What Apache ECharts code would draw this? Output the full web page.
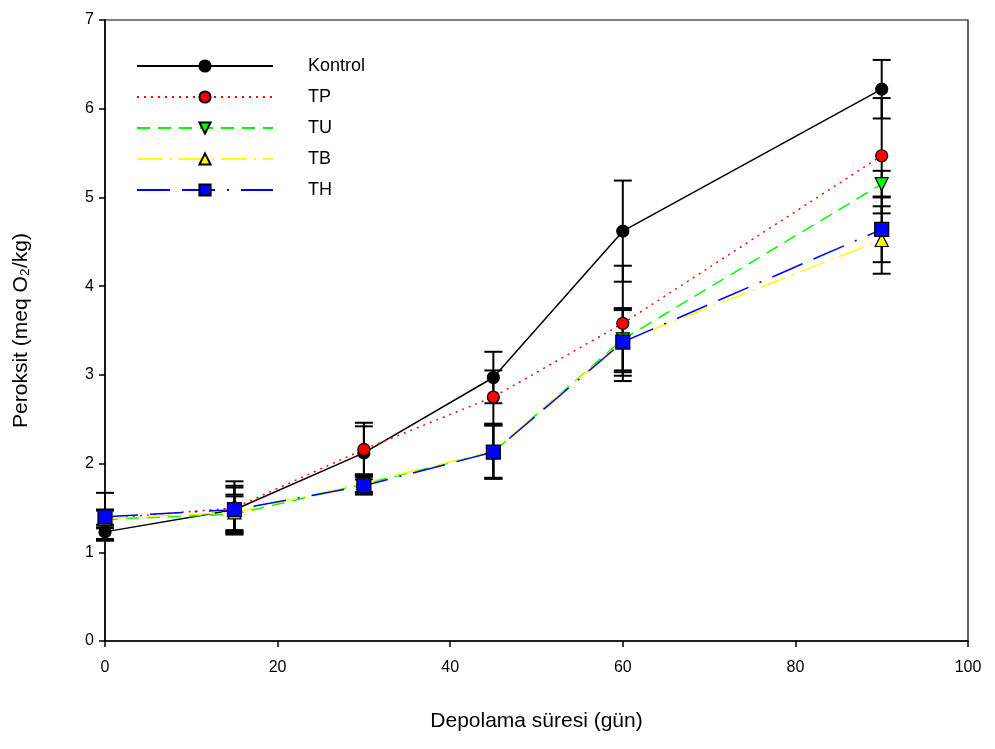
<!DOCTYPE html>
<html>
<head>
<meta charset="utf-8">
<script src="https://cdn.jsdelivr.net/npm/echarts@6/dist/echarts.min.js"></script>
<style>html,body{margin:0;padding:0;background:#fff}#c{width:995px;height:749px}</style>
</head>
<body>
<div id="c"></div>
<script>
const days = [0, 15, 30, 45, 60, 90];
const seriesNames = ['Kontrol', 'TP', 'TU', 'TB', 'TH'];
const kontrol = [1.23, 1.48, 2.12, 2.97, 4.62, 6.22];
const tp = [1.38, 1.50, 2.16, 2.75, 3.58, 5.47];
const tu = [1.37, 1.43, 1.77, 2.13, 3.40, 5.15];
const tb = [1.38, 1.45, 1.78, 2.14, 3.38, 4.52];
const th = [1.40, 1.48, 1.75, 2.13, 3.37, 4.64];
const kontrolErr = [0.08, 0.25, 0.30, 0.29, 0.57, 0.33];
const tpErr = [0.10, 0.30, 0.30, 0.30, 0.65, 0.65];
const tuErr = [0.10, 0.20, 0.10, 0.30, 0.35, 0.15];
const tbErr = [0.10, 0.20, 0.10, 0.30, 0.35, 0.38];
const thErr = [0.27, 0.27, 0.10, 0.30, 0.38, 0.37];
const xTicks = [0, 20, 40, 60, 80, 100];
const yTicks = [0, 1, 2, 3, 4, 5, 6, 7];

const values = [kontrol, tp, tu, tb, th];
const errs = [kontrolErr, tpErr, tuErr, tbErr, thErr];
const colors = ['#000000', '#ff0000', '#00ff00', '#ffff00', '#0000ff'];
const symbols = ['circle', 'circle', 'triangle', 'triangle', 'rect'];
const symbolRot = [0, 0, 180, 0, 0];
const symbolSizes = [12, 12, 13, 13, 14];
const dashes = ['solid', [2, 5], [13, 8], [26, 7, 2, 7], [33, 12, 33, 12, 2, 12]];

const font = 'Liberation Sans, Arial, sans-serif';
const series = [];
values.forEach((vals, i) => {
  series.push({
    type: 'custom',
    name: seriesNames[i] + '_err',
    z: 1,
    silent: true,
    data: days.map((d, k) => [d, vals[k] - errs[i][k], vals[k] + errs[i][k]]),
    renderItem: function (params, api) {
      const lo = api.coord([api.value(0), api.value(1)]);
      const hi = api.coord([api.value(0), api.value(2)]);
      const hw = 9;
      const st = { stroke: '#000', lineWidth: 2 };
      return {
        type: 'group',
        children: [
          { type: 'line', shape: { x1: lo[0], y1: lo[1], x2: hi[0], y2: hi[1] }, style: st },
          { type: 'line', shape: { x1: lo[0] - hw, y1: lo[1], x2: lo[0] + hw, y2: lo[1] }, style: st },
          { type: 'line', shape: { x1: hi[0] - hw, y1: hi[1], x2: hi[0] + hw, y2: hi[1] }, style: st }
        ]
      };
    }
  });
});
values.forEach((vals, i) => {
  series.push({
    type: 'line',
    name: seriesNames[i],
    z: 3 + i,
    data: days.map((d, k) => [d, vals[k]]),
    symbol: symbols[i],
    symbolRotate: symbolRot[i],
    symbolSize: symbolSizes[i],
    showAllSymbol: true,
    lineStyle: { color: colors[i], width: 1.5, type: dashes[i] },
    itemStyle: { color: colors[i], borderColor: '#000', borderWidth: 1.2 }
  });
});

const chart = echarts.init(document.getElementById('c'), null, { renderer: 'canvas' });
chart.setOption({
  animation: false,
  backgroundColor: '#fff',
  grid: { left: 105, right: 27, top: 20, bottom: 108, show: true, borderColor: '#000', borderWidth: 1.2 },
  legend: {
    data: seriesNames,
    orient: 'vertical',
    left: 136,
    top: 57,
    padding: 0,
    itemWidth: 136,
    itemHeight: 14,
    itemGap: 13,
    textStyle: { fontFamily: font, fontSize: 18, color: '#000', padding: [0, 0, 0, 30] }
  },
  xAxis: {
    type: 'value', min: 0, max: 100, interval: 20,
    name: 'Depolama süresi (gün)', nameLocation: 'middle', nameGap: 70,
    nameTextStyle: { fontFamily: font, fontSize: 21, color: '#000' },
    axisLine: { show: true, onZero: false, lineStyle: { color: '#000', width: 1.5 } },
    axisTick: { show: true, length: 6, lineStyle: { color: '#000', width: 1.5 } },
    axisLabel: { fontFamily: font, fontSize: 16, color: '#000', margin: 19 },
    splitLine: { show: false }
  },
  yAxis: {
    type: 'value', min: 0, max: 7, interval: 1,
    name: 'Peroksit (meq O₂/kg)', nameLocation: 'middle', nameGap: 73,
    nameTextStyle: { fontFamily: font, fontSize: 21, color: '#000' },
    axisLine: { show: true, onZero: false, lineStyle: { color: '#000', width: 1.5 } },
    axisTick: { show: true, length: 6, lineStyle: { color: '#000', width: 1.5 } },
    axisLabel: { fontFamily: font, fontSize: 16, color: '#000', margin: 11 },
    splitLine: { show: false }
  },
  series: series
});
</script>
</body>
</html>
